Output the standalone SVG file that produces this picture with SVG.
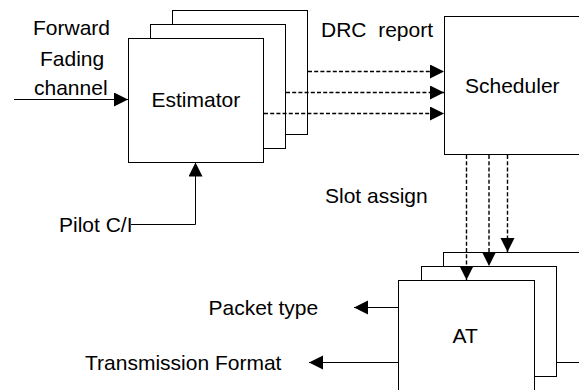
<svg xmlns="http://www.w3.org/2000/svg" width="579" height="390" viewBox="0 0 579 390">
<style>
.box{fill:#fff;stroke:#000;stroke-width:1}
.ln{fill:none;stroke:#000;stroke-width:1}
.dash{fill:none;stroke:#000;stroke-width:1.4;stroke-dasharray:4 2.2}
text{font-family:"Liberation Sans",Arial,sans-serif;font-size:21px;fill:#000;white-space:pre}
</style>
<defs>
<marker id="ah" markerUnits="userSpaceOnUse" markerWidth="15" markerHeight="15" refX="14" refY="7" orient="auto">
<path d="M0,0 L14,7 L0,14 z" fill="#000"/>
</marker>
</defs>
<rect width="579" height="390" fill="#fff"/>
<g id="estimator">
<rect class="box" x="172.5" y="10.5" width="135" height="124"/>
<rect class="box" x="150.5" y="24.5" width="135" height="124"/>
<rect class="box" x="128.5" y="38.5" width="135" height="124"/>
<text x="151.5" y="107">Estimator</text>
</g>
<g id="scheduler">
<rect class="box" x="444.5" y="16.5" width="200" height="138"/>
<text x="465" y="93">Scheduler</text>
</g>
<g id="at">
<rect class="box" x="443.5" y="252.5" width="200" height="110"/>
<rect class="box" x="421.5" y="266.5" width="135" height="110"/>
<rect class="box" x="398.5" y="280.5" width="136" height="124"/>
<text x="452.5" y="343">AT</text>
</g>
<g id="labels">
<text x="33" y="35">Forward</text>
<text x="40" y="65.5">Fading</text>
<text x="34" y="95">channel</text>
<text x="321" y="37">DRC  report</text>
<text x="325" y="203">Slot assign</text>
<text x="59" y="231.5">Pilot C/I</text>
<text x="208.5" y="314.5">Packet type</text>
<text x="85" y="370">Transmission Format</text>
</g>
<g id="connectors">
<line class="ln" x1="14" y1="99.5" x2="128" y2="99.5" marker-end="url(#ah)"/>
<polyline class="ln" points="131,224.5 195.5,224.5 195.5,162.5" marker-end="url(#ah)"/>
<line class="dash" x1="308" y1="71.5" x2="444" y2="71.5" marker-end="url(#ah)"/>
<line class="dash" x1="286" y1="92.5" x2="444" y2="92.5" marker-end="url(#ah)"/>
<line class="dash" x1="264" y1="113.5" x2="444" y2="113.5" marker-end="url(#ah)"/>
<line class="dash" x1="466.5" y1="155" x2="466.5" y2="280" marker-end="url(#ah)"/>
<line class="dash" x1="489" y1="155" x2="489" y2="266" marker-end="url(#ah)"/>
<line class="dash" x1="507.5" y1="155" x2="507.5" y2="252" marker-end="url(#ah)"/>
<line class="ln" x1="398.5" y1="307.5" x2="354" y2="307.5" marker-end="url(#ah)"/>
<line class="ln" x1="398.5" y1="362.5" x2="309" y2="362.5" marker-end="url(#ah)"/>
</g>
</svg>
